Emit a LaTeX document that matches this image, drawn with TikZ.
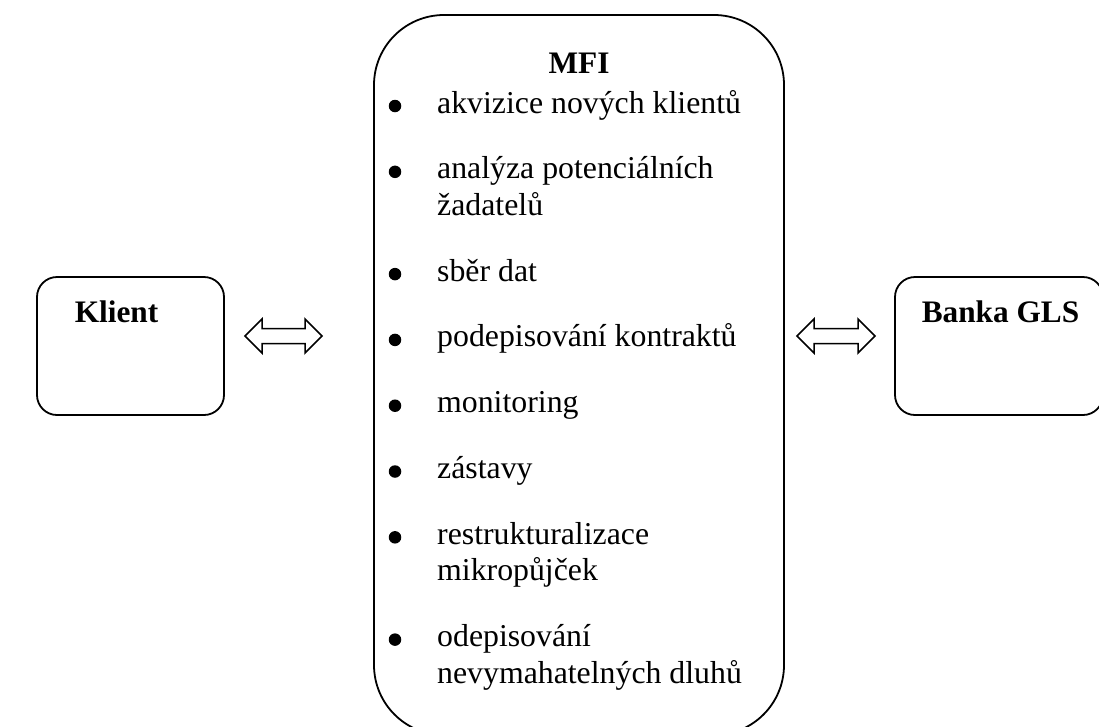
\documentclass[tikz,border=0pt]{standalone}
\usepackage{fontspec}
\setmainfont{Liberation Serif}
\begin{document}
\begin{tikzpicture}[x=1pt,y=-1pt,
  frame/.style={draw, line width=1.8pt, inner sep=0pt},
  txt/.style={anchor=base west, inner sep=0pt, font=\fontsize{31.8}{36.5}\selectfont},
  head/.style={anchor=base, inner sep=0pt, font=\fontsize{31.3}{36.5}\selectfont\bfseries},
  dot/.style={circle, fill=black, inner sep=0pt, minimum size=12.5pt},
  blockarrow/.style={draw, line width=1.5pt, line join=miter}]
\useasboundingbox (0,0) rectangle (1099,726);
\clip (0,0) rectangle (1099,726);

% boxes
\node (mfibox) [frame, rounded corners=70pt, minimum width=410pt, minimum height=720pt] at (579,375) {};
\node (klientbox) [frame, rounded corners=20pt, minimum width=187pt, minimum height=138pt] at (130.5,346) {};
\node (bankabox) [frame, rounded corners=20pt, minimum width=208pt, minimum height=138pt] at (999,346) {};

% titles
\node (mfi) [head] at (579,73) {MFI};
\node (klient) [head] at (116.5,322.7) {Klient};
\node (banka) [head] at (1000.5,322.7) {Banka GLS};

% items
\node (b1) [dot] at (395,106) {};
\node (t1) [txt] at (437,113) {akvizice nových klientů};
\node (b2) [dot] at (395,171.8) {};
\node (t2) [txt] at (437,178.8) {analýza potenciálních};
\node (t2b) [txt] at (437,215.3) {žadatelů};
\node (b3) [dot] at (395,274.1) {};
\node (t3) [txt] at (437,281.1) {sběr dat};
\node (b4) [dot] at (395,339.9) {};
\node (t4) [txt] at (437,346.9) {podepisování kontraktů};
\node (b5) [dot] at (395,405.7) {};
\node (t5) [txt] at (437,412.7) {monitoring};
\node (b6) [dot] at (395,471.5) {};
\node (t6) [txt] at (437,478.5) {zástavy};
\node (b7) [dot] at (395,537.3) {};
\node (t7) [txt] at (437,544.3) {restrukturalizace};
\node (t7b) [txt] at (437,580.8) {mikropůjček};
\node (b8) [dot] at (395,639.6) {};
\node (t8) [txt] at (437,646.6) {odepisování};
\node (t8b) [txt] at (437,683.1) {nevymahatelných dluhů};

% double block arrows
\draw[blockarrow] (245,336) -- (262,319) -- (262,328.5) -- (305,328.5) -- (305,319) -- (322,336)
  -- (305,353) -- (305,343.5) -- (262,343.5) -- (262,353) -- cycle;
\draw[blockarrow] (797,336) -- (814,319) -- (814,328.5) -- (858,328.5) -- (858,319) -- (875,336)
  -- (858,353) -- (858,343.5) -- (814,343.5) -- (814,353) -- cycle;
\end{tikzpicture}
\end{document}
